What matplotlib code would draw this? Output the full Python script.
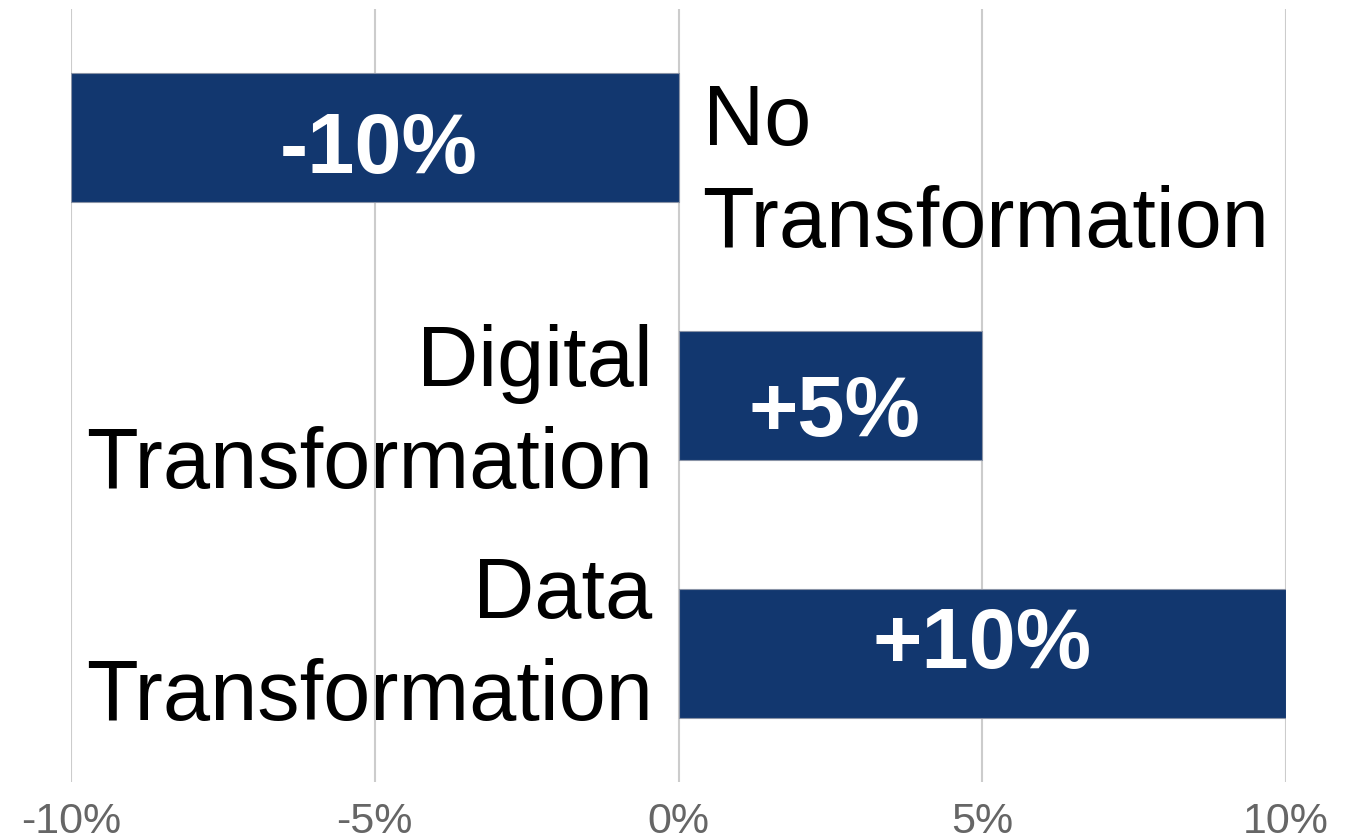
import matplotlib
matplotlib.use("Agg")
import matplotlib.pyplot as plt
from matplotlib import font_manager
import matplotlib.transforms as mtransforms

categories = ["No\nTransformation", "Digital\nTransformation", "Data\nTransformation"]
values = [-10, 5, 10]
value_labels = ["-10%", "+5%", "+10%"]
tick_values = [-10, -5, 0, 5, 10]
tick_labels = ["-10%", "-5%", "0%", "5%", "10%"]

names = {f.name for f in font_manager.fontManager.ttflist}
main_font = ["Liberation Sans", "DejaVu Sans"]
tick_font = ["Liberation Sans Narrow", "Liberation Sans", "DejaVu Sans"] if "Liberation Sans Narrow" in names else ["Liberation Sans", "DejaVu Sans"]

fig = plt.figure(figsize=(13.54, 8.37), dpi=100)
W, H = 1354, 837
ax = fig.add_axes([71 / W, 1 - 783 / H, (1286 - 71) / W, (783 - 10) / H])

bar_color = "#12376F"
y = list(range(len(categories)))
ax.barh(y, values, height=0.5, color=bar_color, edgecolor="#8a93a6", linewidth=0.8, zorder=3)

ax.set_xlim(-10, 10)
ax.set_ylim(2.5, -0.5)
ax.set_xticks(tick_values)
ax.set_xticklabels(tick_labels, fontsize=31, color="#666666", family=tick_font)
ax.tick_params(axis="x", length=0, pad=14)
ax.set_yticks([])
ax.grid(axis="x", color="#cccccc", linewidth=1.5, zorder=0)
for s in ax.spines.values():
    s.set_visible(False)

def px_offset(dx_px, dy_px):
    # pixel offsets (dy positive = downward)
    return ax.transData + mtransforms.ScaledTranslation(dx_px / 100, -dy_px / 100, fig.dpi_scale_trans)

# value labels inside bars (baseline offsets in px)
value_dy_px = [34, 40, 14]
for yi, v, lab, dy in zip(y, values, value_labels, value_dy_px):
    ax.text(v / 2, yi, lab, ha="center", va="baseline", color="white",
            fontsize=61, fontweight="bold", family=main_font, zorder=4,
            transform=px_offset(4 if v != 10 else 0, dy))

# category labels beside bars (last-line baseline offsets in px)
label_dy_px = [108, 92, 66]
for yi, v, cat, dy in zip(y, values, categories, label_dy_px):
    if v < 0:
        ha, dx = "left", 24
    else:
        ha, dx = "right", -26
    ax.text(0, yi, cat, ha=ha, va="baseline", color="black", fontsize=61,
            family=main_font, linespacing=1.36, transform=px_offset(dx, dy), zorder=4)

fig.savefig("out.png", dpi=100)
